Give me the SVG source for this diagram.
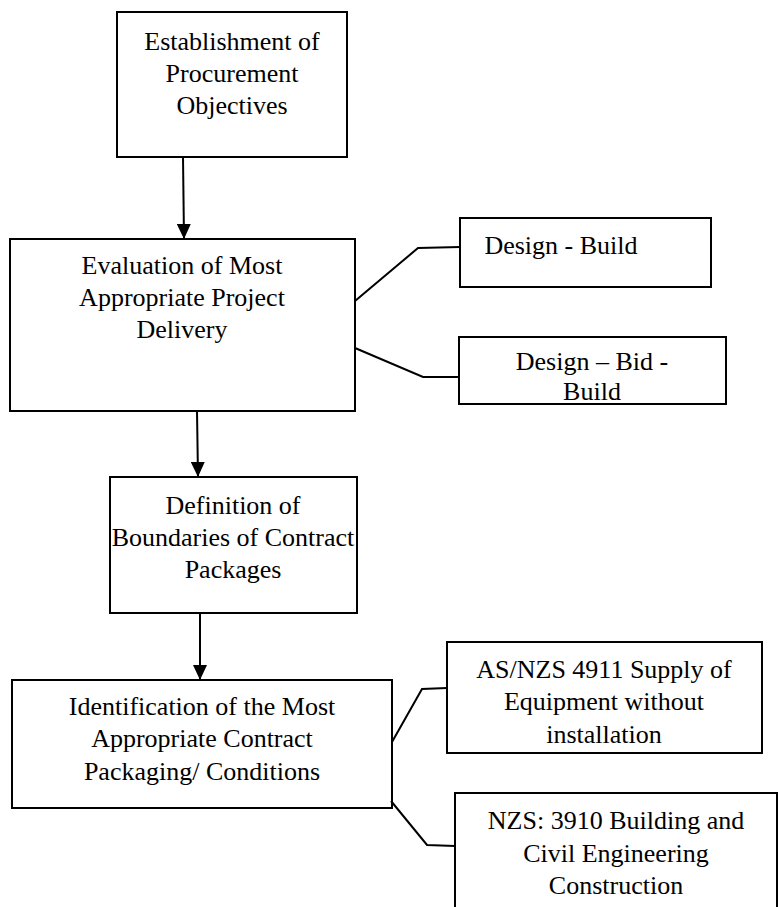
<svg xmlns="http://www.w3.org/2000/svg" width="778" height="907" viewBox="0 0 778 907">
<defs>
<style>
.box{fill:#fff;stroke:#000;stroke-width:2}
.t{font-family:"Liberation Serif","Times New Roman",serif;font-size:26px;fill:#000;text-anchor:middle}
.c{fill:none;stroke:#000;stroke-width:2}
</style>
<marker id="ah" markerWidth="15" markerHeight="14" refX="15" refY="7" orient="auto" markerUnits="userSpaceOnUse">
<path d="M0,0 L15,7 L0,14 Z" fill="#000"/>
</marker>
</defs>
<rect width="778" height="907" fill="#fff"/>
<g id="n1"><rect class="box" x="117" y="12" width="230" height="145"/>
<text class="t" x="232" y="50">Establishment of</text>
<text class="t" x="232" y="82">Procurement</text>
<text class="t" x="232" y="114">Objectives</text></g>
<g id="n2"><rect class="box" x="10" y="239" width="345" height="172"/>
<text class="t" x="182" y="274">Evaluation of Most</text>
<text class="t" x="182" y="306">Appropriate Project</text>
<text class="t" x="182" y="338">Delivery</text></g>
<g id="n3"><rect class="box" x="460" y="218" width="251" height="69"/>
<text class="t" x="561" y="254">Design - Build</text></g>
<g id="n4"><rect class="box" x="459" y="337" width="267" height="67"/>
<text class="t" x="592" y="370">Design – Bid -</text>
<text class="t" x="592" y="400">Build</text></g>
<g id="n5"><rect class="box" x="110" y="477" width="247" height="136"/>
<text class="t" x="233" y="514">Definition of</text>
<text class="t" x="233" y="546">Boundaries of Contract</text>
<text class="t" x="233" y="578">Packages</text></g>
<g id="n6"><rect class="box" x="12" y="680" width="380" height="128"/>
<text class="t" x="202" y="715">Identification of the Most</text>
<text class="t" x="202" y="747">Appropriate Contract</text>
<text class="t" x="202" y="780">Packaging/ Conditions</text></g>
<g id="n7"><rect class="box" x="447" y="642" width="315" height="111"/>
<text class="t" x="604" y="678">AS/NZS 4911 Supply of</text>
<text class="t" x="604" y="710">Equipment without</text>
<text class="t" x="604" y="743">installation</text></g>
<g id="n8"><path class="box" d="M455,907 L455,793 L777,793 L777,907"/>
<text class="t" x="616" y="829">NZS: 3910 Building and</text>
<text class="t" x="616" y="862">Civil Engineering</text>
<text class="t" x="616" y="894">Construction</text></g>
<g id="connectors">
<line class="c" x1="183" y1="157" x2="184" y2="239" marker-end="url(#ah)"/>
<line class="c" x1="197" y1="411" x2="198" y2="477" marker-end="url(#ah)"/>
<line class="c" x1="200" y1="613" x2="200" y2="680" marker-end="url(#ah)"/>
<polyline class="c" points="355,301 418,248 460,247"/>
<polyline class="c" points="355,348 423,377 459,377"/>
<polyline class="c" points="392,742 422,689 447,688"/>
<polyline class="c" points="391,801 427,845 455,846"/>
</g>
</svg>
